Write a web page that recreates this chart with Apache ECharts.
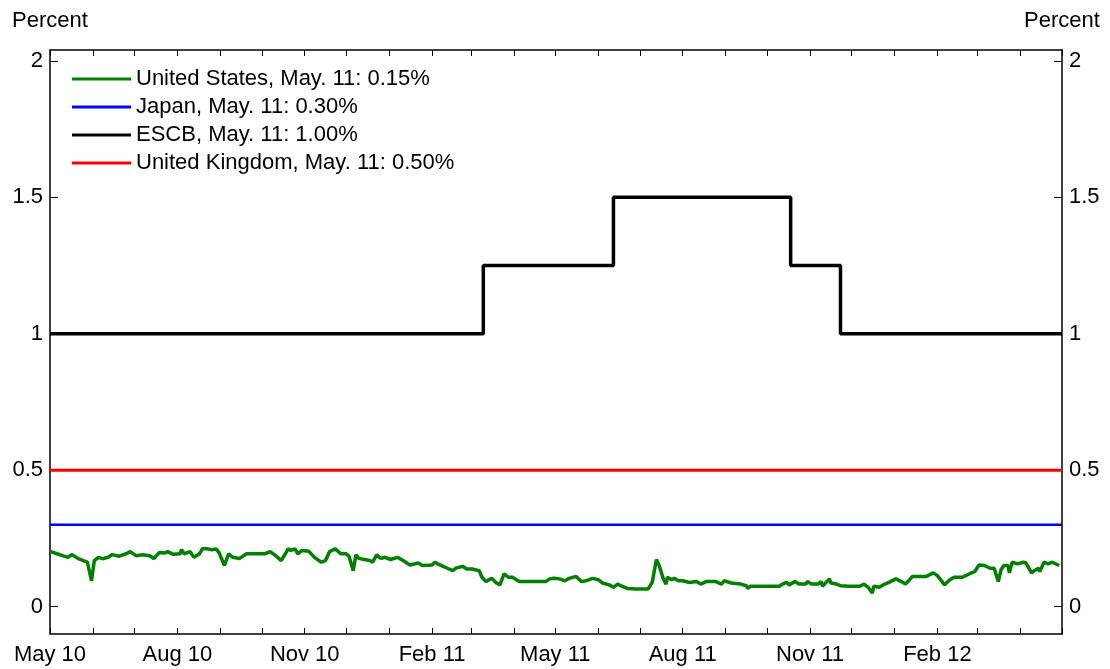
<!DOCTYPE html>
<html>
<head>
<meta charset="utf-8">
<title>Policy rates</title>
<script src="https://cdn.jsdelivr.net/npm/echarts@6/dist/echarts.min.js"></script>
<style>
  html, body { margin: 0; padding: 0; background: #fff; }
  #chart { width: 1110px; height: 669px; }
</style>
</head>
<body>
<div id="chart"></div>
<script>
// ==================== data ====================
const xMin = '2010-05-01';
const xMax = '2012-05-01';
const yTicks = [0, 0.5, 1, 1.5, 2];
const monthNames = ['Jan', 'Feb', 'Mar', 'Apr', 'May', 'Jun', 'Jul', 'Aug', 'Sep', 'Oct', 'Nov', 'Dec'];

const seriesNames = [
  'United States, May. 11: 0.15%',
  'Japan, May. 11: 0.30%',
  'ESCB, May. 11: 1.00%',
  'United Kingdom, May. 11: 0.50%'
];

// United States (daily)
const usDates = [
  '2010-05-01','2010-05-06','2010-05-10','2010-05-14','2010-05-17','2010-05-21','2010-05-25','2010-05-28','2010-05-31',
  '2010-06-02','2010-06-05','2010-06-08','2010-06-12','2010-06-15','2010-06-20','2010-06-25','2010-06-28',
  '2010-07-02','2010-07-07','2010-07-12','2010-07-15','2010-07-19','2010-07-23','2010-07-25','2010-07-29',
  '2010-08-03','2010-08-04','2010-08-06','2010-08-10','2010-08-13','2010-08-17','2010-08-19','2010-08-23','2010-08-26','2010-08-29','2010-08-31',
  '2010-09-04','2010-09-07','2010-09-10','2010-09-15','2010-09-20','2010-09-26',
  '2010-10-03','2010-10-07','2010-10-11','2010-10-15','2010-10-18','2010-10-20','2010-10-22','2010-10-25','2010-10-27','2010-10-30',
  '2010-11-04','2010-11-08','2010-11-13','2010-11-16','2010-11-19','2010-11-23','2010-11-27',
  '2010-12-01','2010-12-03','2010-12-06','2010-12-08','2010-12-10','2010-12-14','2010-12-18','2010-12-20','2010-12-23','2010-12-26','2010-12-29',
  '2011-01-02','2011-01-07','2011-01-11','2011-01-16','2011-01-22','2011-01-25',
  '2011-02-01','2011-02-03','2011-02-05','2011-02-09','2011-02-12','2011-02-16','2011-02-18','2011-02-23','2011-02-26',
  '2011-03-02','2011-03-07','2011-03-09','2011-03-12','2011-03-16','2011-03-19','2011-03-22','2011-03-25','2011-03-28','2011-03-31',
  '2011-04-05','2011-04-14','2011-04-24','2011-04-27','2011-04-30',
  '2011-05-04','2011-05-08','2011-05-11','2011-05-16','2011-05-20','2011-05-23','2011-05-28',
  '2011-06-01','2011-06-04','2011-06-09','2011-06-12','2011-06-15','2011-06-18','2011-06-22','2011-06-28',
  '2011-07-07','2011-07-10','2011-07-13','2011-07-15','2011-07-18','2011-07-20','2011-07-21','2011-07-24','2011-07-26','2011-07-29',
  '2011-08-01','2011-08-06','2011-08-11','2011-08-14','2011-08-18','2011-08-25','2011-08-29','2011-08-31',
  '2011-09-05','2011-09-12','2011-09-16','2011-09-17','2011-09-19','2011-09-28',
  '2011-10-10','2011-10-12','2011-10-15','2011-10-17','2011-10-21','2011-10-24','2011-10-29','2011-10-30',
  '2011-11-02','2011-11-07','2011-11-09','2011-11-10','2011-11-15','2011-11-16','2011-11-20','2011-11-23','2011-11-29',
  '2011-12-07','2011-12-10','2011-12-13','2011-12-16','2011-12-17','2011-12-21','2011-12-25','2011-12-28',
  '2012-01-02','2012-01-06','2012-01-09','2012-01-14','2012-01-19','2012-01-24','2012-01-29',
  '2012-02-01','2012-02-04','2012-02-06','2012-02-10','2012-02-13','2012-02-19','2012-02-24','2012-02-28',
  '2012-03-02','2012-03-06','2012-03-10','2012-03-13','2012-03-16','2012-03-18','2012-03-20','2012-03-23','2012-03-24','2012-03-26','2012-03-30',
  '2012-04-03','2012-04-05','2012-04-09','2012-04-11','2012-04-14','2012-04-15','2012-04-18','2012-04-21','2012-04-24','2012-04-29'
];
const usValues = [
  0.203,0.194,0.187,0.181,0.191,0.177,0.169,0.163,0.095,
  0.169,0.181,0.176,0.181,0.191,0.185,0.194,0.202,
  0.187,0.190,0.187,0.176,0.199,0.197,0.202,0.192,
  0.194,0.209,0.194,0.202,0.181,0.194,0.212,0.212,0.209,0.212,0.199,
  0.151,0.194,0.181,0.177,0.194,0.194,
  0.194,0.202,0.187,0.169,0.194,0.212,0.206,0.212,0.194,0.206,
  0.203,0.181,0.163,0.169,0.202,0.212,0.194,
  0.194,0.185,0.132,0.190,0.177,0.173,0.169,0.163,0.190,0.177,0.181,
  0.173,0.181,0.169,0.153,0.160,0.151,
  0.153,0.163,0.157,0.148,0.141,0.132,0.141,0.148,0.138,
  0.138,0.132,0.108,0.092,0.104,0.089,0.080,0.120,0.108,0.108,
  0.092,0.092,0.092,0.102,0.104,
  0.102,0.095,0.104,0.111,0.092,0.095,0.104,
  0.099,0.087,0.080,0.071,0.083,0.075,0.067,0.065,
  0.065,0.089,0.173,0.151,0.102,0.083,0.108,0.099,0.104,0.095,
  0.095,0.089,0.092,0.083,0.092,0.092,0.083,0.095,
  0.087,0.083,0.077,0.067,0.075,0.075,
  0.075,0.083,0.089,0.080,0.092,0.083,0.083,0.092,
  0.083,0.083,0.092,0.075,0.102,0.087,0.083,0.077,0.075,
  0.075,0.083,0.071,0.050,0.075,0.071,0.083,0.089,
  0.102,0.092,0.083,0.111,0.111,0.111,0.124,
  0.114,0.095,0.080,0.099,0.108,0.108,0.120,0.129,
  0.153,0.151,0.141,0.141,0.092,0.136,0.151,0.151,0.124,0.163,0.157,
  0.163,0.160,0.124,0.132,0.141,0.129,0.163,0.157,0.163,0.151
];

// Japan
const japanDates = ['2010-05-01', '2012-05-01'];
const japanValues = [0.30, 0.30];

// ESCB (step changes)
const escbDates = ['2010-05-01', '2011-03-10', '2011-06-12', '2011-10-18', '2011-11-23', '2012-05-01'];
const escbValues = [1.00, 1.25, 1.50, 1.25, 1.00, 1.00];

// United Kingdom
const ukDates = ['2010-05-01', '2012-05-01'];
const ukValues = [0.50, 0.50];

// ==================== chart ====================
const FONT = 'Liberation Sans, Arial, Helvetica, sans-serif';
const FONT_SIZE = 22;
const zip = (dates, values) => dates.map((d, i) => [d, values[i]]);
const maxTime = echarts.time.parse(xMax).getTime();

const chart = echarts.init(document.getElementById('chart'), null, { renderer: 'canvas' });

const axisLineStyle = { color: '#000', width: 1.5 };

const makeYAxis = (position) => ({
  type: 'value',
  position: position,
  min: -0.1,
  max: 2.04,
  name: 'Percent',
  nameLocation: 'end',
  nameGap: 18,
  nameTextStyle: { color: '#000', fontSize: FONT_SIZE, fontFamily: FONT },
  axisLine: { show: true, onZero: false, lineStyle: axisLineStyle },
  axisTick: { show: true, inside: true, length: 8, lineStyle: { color: '#000', width: 1 }, customValues: yTicks },
  axisLabel: { show: true, color: '#000', fontSize: FONT_SIZE, fontFamily: FONT, margin: 7, customValues: yTicks },
  splitLine: { show: false }
});

const option = {
  animation: false,
  backgroundColor: '#fff',
  grid: { left: 50, right: 48, top: 50, bottom: 35, containLabel: false },
  legend: {
    orient: 'vertical',
    left: 72,
    top: 68,
    padding: 0,
    icon: 'rect',
    itemWidth: 59,
    itemHeight: 3,
    itemGap: 6,
    data: seriesNames,
    textStyle: { color: '#000', fontSize: FONT_SIZE, fontFamily: FONT, lineHeight: 22 }
  },
  xAxis: [
    {
      type: 'time',
      position: 'bottom',
      min: xMin,
      max: xMax,
      splitNumber: 24,
      minInterval: 28 * 86400000,
      maxInterval: 31 * 86400000,
      axisLine: { show: true, onZero: false, lineStyle: axisLineStyle },
      axisTick: { show: true, inside: true, length: 6, lineStyle: { color: '#000', width: 1 } },
      axisLabel: {
        color: '#000',
        fontSize: FONT_SIZE,
        fontFamily: FONT,
        margin: 10,
        showMaxLabel: false,
        formatter: (value) => {
          const d = new Date(value);
          const m = d.getMonth();
          if (m % 3 !== 1 || value >= maxTime) return '';
          return monthNames[m] + ' ' + String(d.getFullYear()).slice(2);
        }
      },
      splitLine: { show: false }
    },
    {
      type: 'time',
      position: 'top',
      min: xMin,
      max: xMax,
      splitNumber: 24,
      minInterval: 28 * 86400000,
      maxInterval: 31 * 86400000,
      axisLine: { show: true, onZero: false, lineStyle: axisLineStyle },
      axisTick: { show: true, inside: true, length: 6, lineStyle: { color: '#000', width: 1 } },
      axisLabel: { show: false },
      splitLine: { show: false }
    }
  ],
  yAxis: [makeYAxis('left'), makeYAxis('right')],
  series: [
    {
      name: seriesNames[0],
      type: 'line',
      symbol: 'none',
      data: zip(usDates, usValues),
      lineStyle: { color: '#008000', width: 3.5 },
      itemStyle: { color: '#008000' },
      z: 5
    },
    {
      name: seriesNames[1],
      type: 'line',
      symbol: 'none',
      data: zip(japanDates, japanValues),
      lineStyle: { color: '#0000ff', width: 2.5 },
      itemStyle: { color: '#0000ff' }
    },
    {
      name: seriesNames[2],
      type: 'line',
      symbol: 'none',
      step: 'end',
      data: zip(escbDates, escbValues),
      lineStyle: { color: '#000', width: 3.5 },
      itemStyle: { color: '#000' }
    },
    {
      name: seriesNames[3],
      type: 'line',
      symbol: 'none',
      data: zip(ukDates, ukValues),
      lineStyle: { color: '#ff0000', width: 3 },
      itemStyle: { color: '#ff0000' }
    }
  ]
};

chart.setOption(option);
</script>
</body>
</html>
